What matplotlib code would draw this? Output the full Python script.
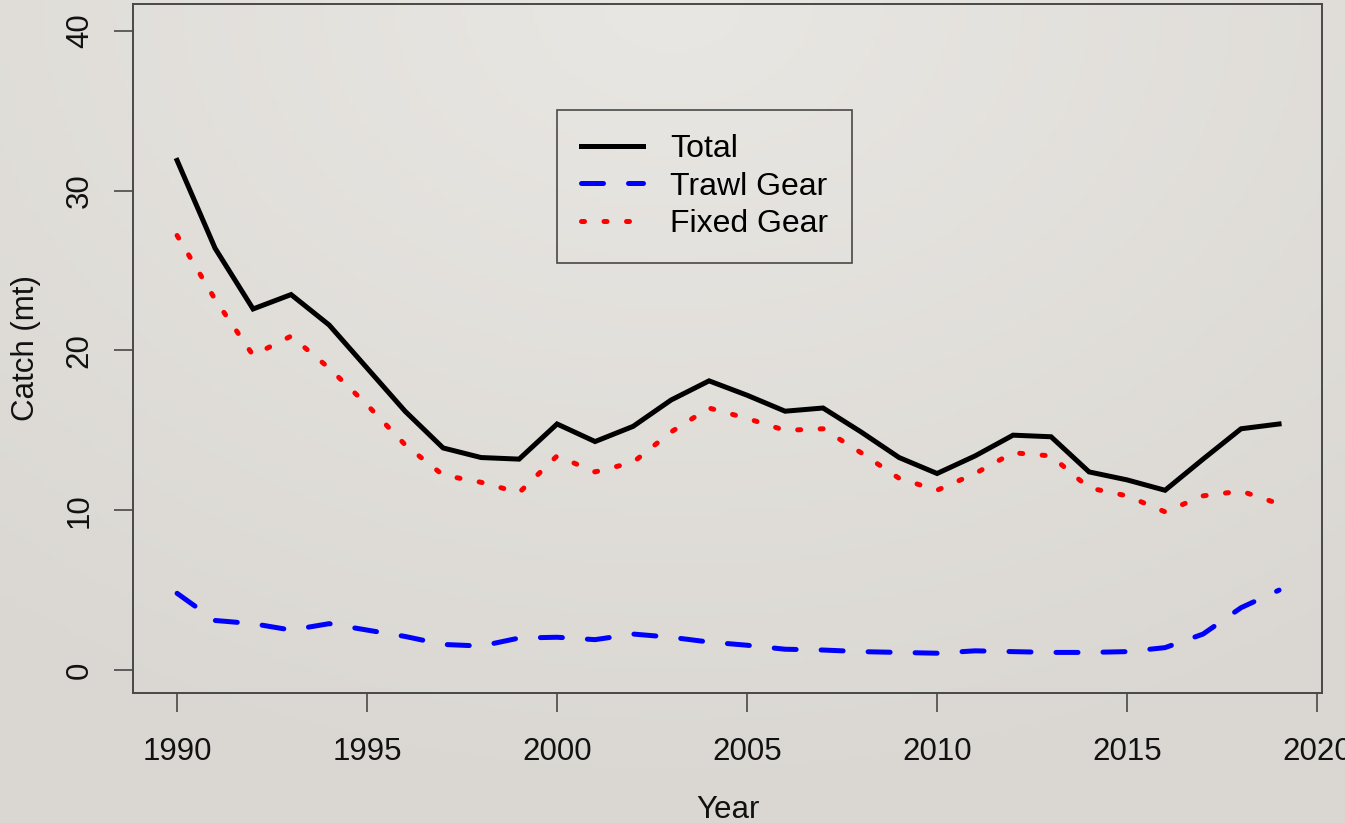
import numpy as np
import matplotlib
matplotlib.use("Agg")
import matplotlib.pyplot as plt

plt.rcParams['font.family'] = ['Liberation Sans', 'DejaVu Sans']

years = list(range(1990, 2020))
total = [31.9, 26.4, 22.6, 23.5, 21.6, 18.9, 16.2, 13.9, 13.3, 13.2,
         15.4, 14.3, 15.25, 16.9, 18.1, 17.2, 16.2, 16.4, 14.9, 13.3,
         12.3, 13.4, 14.7, 14.6, 12.4, 11.9, 11.25, 13.2, 15.1, 15.4]
trawl = [4.8, 3.1, 2.9, 2.5, 2.9, 2.5, 2.1, 1.6, 1.5, 2.0,
         2.05, 1.9, 2.25, 2.05, 1.75, 1.55, 1.3, 1.25, 1.15, 1.1,
         1.05, 1.2, 1.15, 1.1, 1.1, 1.15, 1.4, 2.25, 3.9, 5.0]
fixed = [27.2, 23.2, 19.7, 20.9, 18.9, 16.6, 14.1, 12.2, 11.75, 11.1,
         13.4, 12.4, 13.0, 14.9, 16.4, 15.75, 15.0, 15.1, 13.6, 12.0,
         11.25, 12.3, 13.6, 13.4, 11.4, 10.9, 9.9, 10.9, 11.2, 10.4]
labels = ["Total", "Trawl Gear", "Fixed Gear"]

fig = plt.figure(figsize=(13.45, 8.23), dpi=100)

# warm grey slide background, lighter near the top middle
bg = fig.add_axes([0, 0, 1, 1], zorder=-10)
gy, gx = np.mgrid[0:1:200j, 0:1:300j]
r = np.sqrt(((gx - 0.5) * 1.2) ** 2 + (gy * 1.0) ** 2)
k = np.clip(r, 0, 1)
light = np.array([233, 231, 227]) / 255
dark = np.array([218, 215, 210]) / 255
img = light[None, None, :] * (1 - k[..., None]) + dark[None, None, :] * k[..., None]
bg.imshow(img, aspect="auto", extent=[0, 1, 0, 1], origin="upper")
bg.axis("off")

ax = fig.add_axes([133 / 1345, 1 - 693 / 823, (1322 - 133) / 1345, 689 / 823])
ax.set_facecolor("none")

lw = 3.6
ax.plot(years, total, color="black", lw=lw, solid_joinstyle="miter", label=labels[0])
ax.plot(years, trawl, color="blue", lw=lw, dashes=(4.4, 5.0),
        dash_capstyle="round", label=labels[1])
ax.plot(years, fixed, color="red", lw=lw, dashes=(0.6, 3.9),
        dash_capstyle="round", label=labels[2])

ax.set_xlim(1988.84, 2020.13)
ax.set_ylim(-1.44, 41.69)
ax.set_xticks([1990, 1995, 2000, 2005, 2010, 2015, 2020])
ax.set_yticks([0, 10, 20, 30, 40])

for s in ax.spines.values():
    s.set_color("#484848")
    s.set_linewidth(1.4)
ax.tick_params(direction="out", length=13.5, width=1.2, color="#484848",
               labelsize=22.5, labelcolor="#111111")
ax.tick_params(axis="x", pad=18.5)
ax.tick_params(axis="y", pad=14)
for t in ax.get_yticklabels():
    t.set_rotation(90)
    t.set_va("center")

ax.set_xlabel("Year", fontsize=22.5, labelpad=20, color="#111111")
ax.set_ylabel("Catch (mt)", fontsize=22.5, labelpad=17, color="#111111")

leg = ax.legend(loc="upper left", bbox_to_anchor=((557 - 133) / 1189, (693 - 110) / 689),
                fontsize=23, frameon=True, fancybox=False, handlelength=1.95,
                handletextpad=0.85, borderpad=0.75, labelspacing=0.24,
                borderaxespad=0)
leg.get_frame().set_edgecolor("#222222")
leg.get_frame().set_facecolor("none")
leg.get_frame().set_linewidth(1.2)

fig.savefig("out.png", dpi=100)
